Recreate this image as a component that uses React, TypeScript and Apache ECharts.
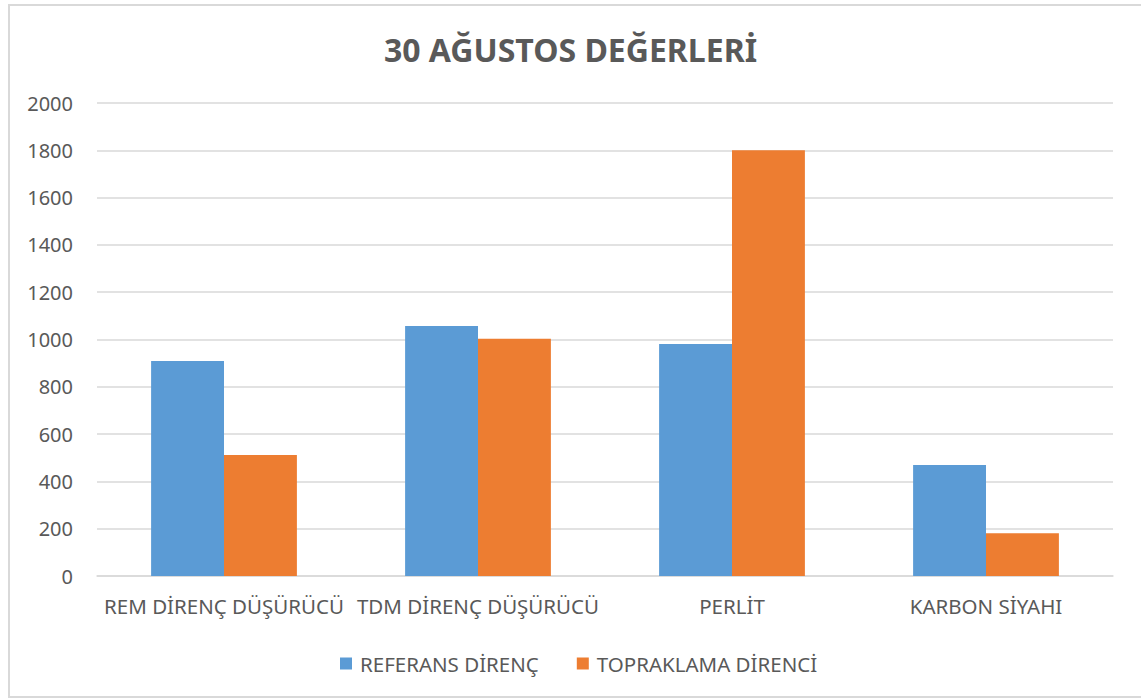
import React, { useEffect, useRef } from "react";
import * as echarts from "echarts";

const categories = ["REM DİRENÇ DÜŞÜRÜCÜ", "TDM DİRENÇ DÜŞÜRÜCÜ", "PERLİT", "KARBON SİYAHI"];
const referansValues = [909, 1057, 981, 469];
const topraklamaValues = [512, 1003, 1800, 181];
const seriesNames = ["REFERANS DİRENÇ", "TOPRAKLAMA DİRENCİ"];
const titleText = "30 AĞUSTOS DEĞERLERİ";

const FONT = "Noto Sans";
const TEXT = "#595959";

export default function App() {
  const ref = useRef<HTMLDivElement>(null);
  useEffect(() => {
    document.body.style.margin = "0";
    const chart = echarts.init(ref.current!, null, { renderer: "svg" });
    chart.setOption({
      animation: false,
      backgroundColor: "#ffffff",
      title: {
        text: titleText,
        left: "center",
        top: 28,
        textStyle: { fontFamily: FONT, fontSize: 32, fontWeight: "bold", color: TEXT },
      },
      graphic: [
        {
          type: "rect",
          shape: { x: 9, y: 5, width: 1140, height: 692 },
          style: { fill: "none", stroke: "#D9D9D9", lineWidth: 2 },
          silent: true,
        },
      ],
      legend: {
        data: seriesNames,
        left: 335,
        top: 648,
        itemWidth: 12,
        itemHeight: 12,
        itemGap: 38,
        icon: "rect",
        textStyle: { fontFamily: FONT, fontSize: 20.5, color: TEXT, padding: [0, 0, 0, 3] },
      },
      grid: { left: 97, right: 28, top: 103, bottom: 124, containLabel: false },
      xAxis: {
        type: "category",
        data: categories,
        axisLine: { lineStyle: { color: "#D9D9D9", width: 1.5 } },
        axisTick: { show: false },
        axisLabel: { fontFamily: FONT, fontSize: 20.5, color: TEXT, margin: 19, interval: 0 },
      },
      yAxis: {
        type: "value",
        min: 0,
        max: 2000,
        interval: 200,
        axisLine: { show: false },
        axisTick: { show: false },
        axisLabel: {
          fontFamily: FONT,
          fontSize: 20,
          color: TEXT,
          margin: 24,
          formatter: (v: number) => String(v),
        },
        splitLine: { lineStyle: { color: "#D9D9D9", width: 1.5 } },
      },
      series: [
        {
          name: seriesNames[0],
          type: "bar",
          data: referansValues,
          barWidth: "28.7%",
          barGap: "0%",
          itemStyle: { color: "#5B9BD5" },
        },
        {
          name: seriesNames[1],
          type: "bar",
          data: topraklamaValues,
          barWidth: "28.7%",
          barGap: "0%",
          itemStyle: { color: "#ED7D31" },
        },
      ],
    });
    return () => chart.dispose();
  }, []);
  return <div ref={ref} style={{ width: 1141, height: 700 }} />;
}
